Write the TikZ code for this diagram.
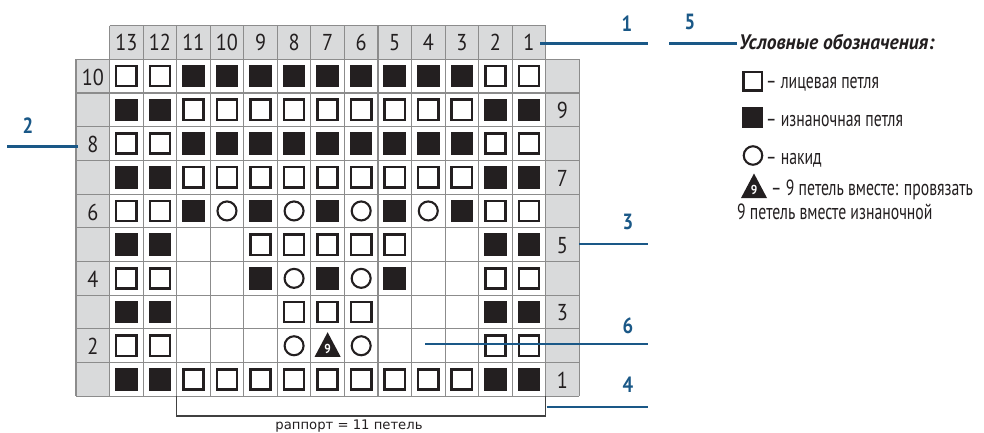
\documentclass[tikz,border=0pt]{standalone}
\usepackage{fontspec}
\setmainfont{PT Sans}
\newfontfamily\gridfont[FakeStretch=0.88]{PT Sans}
\newfontfamily\legfont[FakeStretch=0.716]{PT Sans}
\newfontfamily\titlefont[FakeStretch=0.93]{PT Sans}
\newfontfamily\calloutfont[FakeStretch=0.85]{PT Sans}
\newfontfamily\rapfont{DejaVu Sans}
\usetikzlibrary{calc}
\definecolor{callblue}{RGB}{26,88,135}
\definecolor{labgray}{RGB}{217,218,219}
\definecolor{gridgray}{RGB}{140,140,140}
\definecolor{ink}{RGB}{35,31,32}
\tikzset{
  gridline/.style={draw=gridgray, line width=1.1},
  st-O/.style={rectangle, draw=ink, fill=white, line width=2.5, minimum size=20.2, inner sep=0},
  st-F/.style={rectangle, fill=ink, minimum size=22.6, inner sep=0},
  st-C/.style={circle, draw=ink, line width=2.1, minimum size=19, inner sep=0},
  st-E/.style={inner sep=0, minimum size=0},
  st-T/.style={inner sep=0, minimum size=0},
  gridnum/.style={font=\gridfont\fontsize{23}{23}\selectfont, text=ink, inner sep=0},
  callout/.style={draw=callblue, line width=2.2},
  calllabel/.style={font=\calloutfont\bfseries\fontsize{22}{22}\selectfont, text=callblue, inner sep=0},
  legtext/.style={font=\legfont\fontsize{22}{22}\selectfont, text=ink, inner sep=0, anchor=base west},
  bracket/.style={draw=black!75, line width=1.1},
}
\newcommand\stitchrow[2]{%
  \foreach \s [count=\j] in {#2} {%
    \node[st-\s] (c-#1-\j) at ({76+(\j+0.5)*33.55},{59.3+(10-#1+0.5)*33.7}) {};
  }%
}
\newcommand\ninetri[1]{%
  \fill[ink, shift={(#1)}] (0,-13.5) -- (13,11) -- (-13,11) -- cycle;
  \node[text=white, font=\gridfont\bfseries\fontsize{13}{13}\selectfont, inner sep=0] (#1-nine) at ($(#1)+(0,3)$) {9};
}
\begin{document}
\begin{tikzpicture}[x=1pt,y=-1pt]
\useasboundingbox (0,0) rectangle (984,433);
% label cells
\fill[labgray] (109.55,25.7) rectangle (545.7,59.3);
\fill[labgray] (76,59.3) rectangle (109.55,396.3);
\fill[labgray] (545.7,59.3) rectangle (579.25,396.3);
% grid lines
\foreach \k in {0,...,15} \draw[gridline] ({76+\k*33.55},59.3) -- ({76+\k*33.55},396.3);
\foreach \k in {1,...,14} \draw[gridline] ({76+\k*33.55},25.7) -- ({76+\k*33.55},59.3);
\foreach \m in {0,...,10} \draw[gridline] (76,{59.3+\m*33.7}) -- (579.25,{59.3+\m*33.7});
\draw[gridline] (109.55,25.7) -- (545.7,25.7);
% numbers
\foreach \n [count=\j] in {13,12,...,1} \node[gridnum] (h\n) at ({76+(\j+0.5)*33.55},42.3) {\n};
\foreach \r in {10,8,6,4,2} \node[gridnum] (l\r) at (92.8,{59.3+(10-\r+0.5)*33.7+1}) {\r};
\foreach \r in {9,7,5,3,1} \node[gridnum] (r\r) at (562.5,{59.3+(10-\r+0.5)*33.7+1}) {\r};
% stitches
\stitchrow{10}{O,O,F,F,F,F,F,F,F,F,F,O,O}
\stitchrow{9}{F,F,O,O,O,O,O,O,O,O,O,F,F}
\stitchrow{8}{O,O,F,F,F,F,F,F,F,F,F,O,O}
\stitchrow{7}{F,F,O,O,O,O,O,O,O,O,O,F,F}
\stitchrow{6}{O,O,F,C,F,C,F,C,F,C,F,O,O}
\stitchrow{5}{F,F,E,E,O,O,O,O,O,E,E,F,F}
\stitchrow{4}{O,O,E,E,F,C,F,C,F,E,E,O,O}
\stitchrow{3}{F,F,E,E,E,O,O,O,E,E,E,F,F}
\stitchrow{2}{O,O,E,E,E,C,T,C,E,E,E,O,O}
\stitchrow{1}{F,F,O,O,O,O,O,O,O,O,O,F,F}
\ninetri{c-2-7}
% rapport bracket
\coordinate (brL) at (176.65,396.3);
\coordinate (brR) at (545.7,396.3);
\draw[bracket] (brL) -- ++(0,19.7) -| (brR);
\node[font=\rapfont\fontsize{13.2}{13.2}\selectfont, text=ink, inner sep=0] (rap) at (349,426) {раппорт = 11 петель};
% callouts
\coordinate (a1) at (540,43.5); \coordinate (b1) at (648,43.5);
\draw[callout] (a1) -- (b1); \node[calllabel] (n1) at (627,24) {1};
\coordinate (a5) at (669,43.5); \coordinate (b5) at (737,43.5);
\draw[callout] (a5) -- (b5); \node[calllabel] (n5) at (690,22) {5};
\coordinate (a2) at (7,146.5); \coordinate (b2) at (78,146.5);
\draw[callout] (a2) -- (b2); \node[calllabel] (n2) at (28,125.5) {2};
\coordinate (a3) at (579.25,244); \coordinate (b3) at (648,244);
\draw[callout] (a3) -- (b3); \node[calllabel] (n3) at (628,222) {3};
\coordinate (a6) at (425,344); \coordinate (b6) at (648,344);
\draw[callout] (a6) -- (b6); \node[calllabel] (n6) at (628,326) {6};
\coordinate (a4) at (546.7,407); \coordinate (b4) at (648,407);
\draw[callout] (a4) -- (b4); \node[calllabel] (n4) at (628,385) {4};
% legend
\node[font=\titlefont\bfseries\itshape\fontsize{21}{21}\selectfont, text=ink, anchor=base west, inner sep=0] (title) at (739,49.5) {Условные обозначения:};
\node[st-O, minimum size=18.3] (lg1) at (752.8,81.3) {};
\node[legtext] (lt1) at (766,89) {– лицевая петля};
\node[st-F, minimum size=20.7] (lg2) at (752.8,117.5) {};
\node[legtext] (lt2) at (766,126) {– изнаночная петля};
\node[st-C, minimum size=18.5] (lg3) at (753,155.5) {};
\node[legtext] (lt3) at (766,164) {– накид};
\coordinate (lg4) at (754,187);
\ninetri{lg4}
\node[legtext] (lt4) at (771,195.5) {– 9 петель вместе: провязать};
\node[legtext] (lt5) at (737,219) {9 петель вместе изнаночной};
\end{tikzpicture}
\end{document}
